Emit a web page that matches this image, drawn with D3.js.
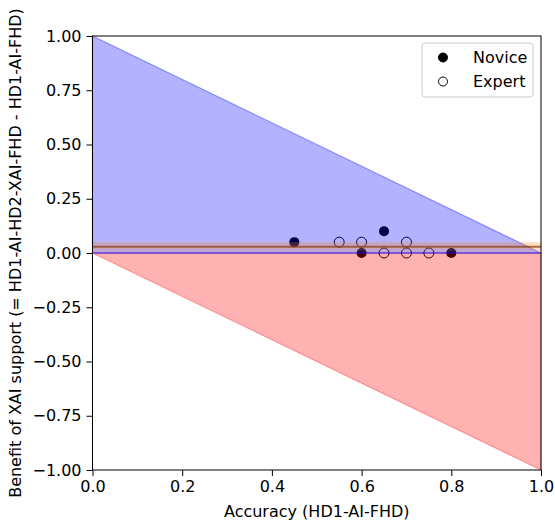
<!DOCTYPE html>
<html><head><meta charset="utf-8">
<script src="https://cdn.jsdelivr.net/npm/d3@7/dist/d3.min.js"></script>
<style>body{margin:0;background:#fff}svg{display:block}text{font-family:"DejaVu Sans",sans-serif}</style>
</head><body>
<svg id="c" width="555" height="524"></svg>
<script>
const noviceX = [0.45, 0.65, 0.60, 0.80];
const noviceY = [0.05, 0.10, 0.00, 0.00];
const expertX = [0.55, 0.60, 0.70, 0.65, 0.70, 0.75];
const expertY = [0.05, 0.05, 0.05, 0.00, 0.00, 0.00];
const meanBenefit = 0.029;
const bandLow = 0.007, bandHigh = 0.050;
const xTicks = [0.0, 0.2, 0.4, 0.6, 0.8, 1.0];
const yTicks = [-1.0, -0.75, -0.5, -0.25, 0.0, 0.25, 0.5, 0.75, 1.0];
const legendLabels = ["Novice", "Expert"];

const svg = d3.select("#c");
const x = d3.scaleLinear().domain([0, 1]).range([92.5, 541]);
const y = d3.scaleLinear().domain([-1, 1]).range([470, 36]);
const FS = 16;

const g = svg.append("g");
// points (drawn under the translucent regions)
noviceX.forEach((v, i) => g.append("circle").attr("cx", x(v)).attr("cy", y(noviceY[i])).attr("r", 5).attr("fill", "#000"));
expertX.forEach((v, i) => g.append("circle").attr("cx", x(v)).attr("cy", y(expertY[i])).attr("r", 5).attr("fill", "none").attr("stroke", "#000").attr("stroke-width", 1));

const line = d3.line().x(d => x(d[0])).y(d => y(d[1]));
g.append("path").attr("d", line([[0, 0], [0, 1], [1, 0]]) + "Z")
  .attr("fill", "rgba(0,0,255,0.3)").attr("stroke", "rgba(0,0,255,0.35)").attr("stroke-width", 1.2);
g.append("path").attr("d", line([[0, 0], [1, 0], [1, -1]]) + "Z")
  .attr("fill", "rgba(255,0,0,0.3)").attr("stroke", "rgba(255,0,0,0.3)").attr("stroke-width", 1.2);
g.append("line").attr("x1", x(0)).attr("x2", x(1)).attr("y1", y(0)).attr("y2", y(0))
  .attr("stroke", "rgba(0,0,255,0.45)").attr("stroke-width", 1.5);

// mean band + line
g.append("rect").attr("x", x(0)).attr("width", x(1) - x(0))
  .attr("y", y(bandHigh)).attr("height", y(bandLow) - y(bandHigh))
  .attr("fill", "rgba(255,127,14,0.25)");
g.append("line").attr("x1", x(0)).attr("x2", x(1)).attr("y1", y(meanBenefit)).attr("y2", y(meanBenefit))
  .attr("stroke", "rgba(140,70,20,0.75)").attr("stroke-width", 2);

// axes
const xa = svg.append("g").attr("transform", "translate(0,470)")
  .call(d3.axisBottom(x).tickValues(xTicks).tickFormat(d3.format(".1f")).tickSize(6).tickPadding(5));
const ya = svg.append("g").attr("transform", "translate(92.5,0)")
  .call(d3.axisLeft(y).tickValues(yTicks).tickFormat(d3.format(".2f")).tickSize(6).tickPadding(5));
[xa, ya].forEach(a => { a.selectAll("text").attr("font-size", FS).attr("fill", "#000").attr("font-family", "DejaVu Sans"); a.select(".domain").remove(); a.selectAll("line").attr("stroke", "#000"); });
svg.append("rect").attr("x", 92.5).attr("y", 36).attr("width", 541 - 92.5).attr("height", 434)
  .attr("fill", "none").attr("stroke", "#000").attr("stroke-width", 1);

svg.append("text").attr("x", (92.5 + 541) / 2).attr("y", 517).attr("text-anchor", "middle").attr("font-size", FS).text("Accuracy (HD1-AI-FHD)");
svg.append("text").attr("transform", "translate(21,253) rotate(-90)").attr("text-anchor", "middle").attr("font-size", FS)
  .text("Benefit of XAI support (= HD1-AI-HD2-XAI-FHD - HD1-AI-FHD)");

// legend
const lg = svg.append("g");
lg.append("rect").attr("x", 422).attr("y", 43).attr("width", 111).attr("height", 54).attr("rx", 3)
  .attr("fill", "rgba(255,255,255,0.8)").attr("stroke", "#ccc").attr("stroke-width", 1);
legendLabels.forEach((t, i) => {
  const cy = 57.5 + i * 24;
  lg.append("circle").attr("cx", 443).attr("cy", cy).attr("r", 4.5)
    .attr("fill", i === 0 ? "#000" : "#fff").attr("stroke", "#000").attr("stroke-width", 1);
  lg.append("text").attr("x", 473).attr("y", cy + 5).attr("font-size", FS).text(t);
});
</script>
</body></html>
